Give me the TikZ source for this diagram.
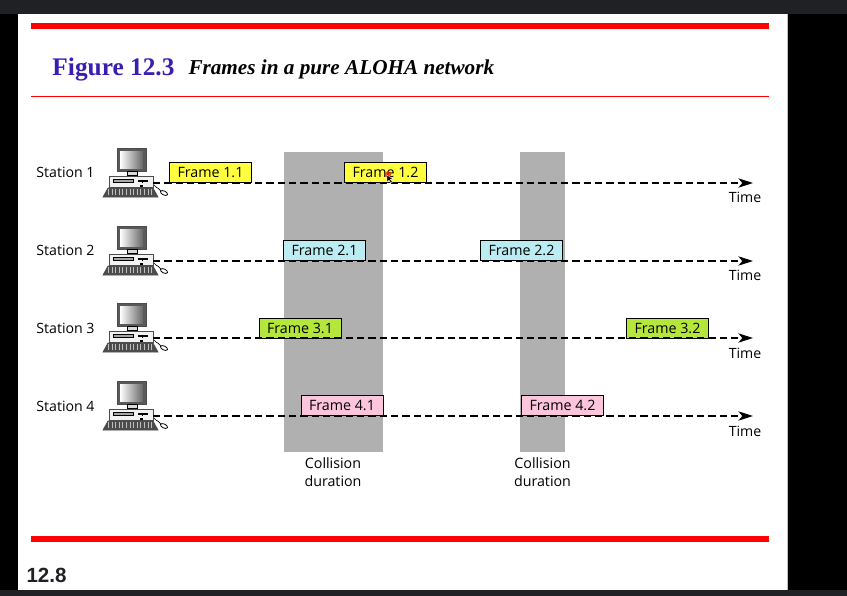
\documentclass[tikz,border=0pt]{standalone}
\usepackage{fontspec}
\setmainfont{Open Sans}
\newfontfamily\serifbold{Liberation Serif}
\newfontfamily\arialbold{Liberation Sans}
\usetikzlibrary{arrows.meta}
\definecolor{topdark}{RGB}{32,33,36}
\definecolor{slidered}{RGB}{255,0,0}
\definecolor{figblue}{RGB}{58,30,178}
\definecolor{colgray}{RGB}{176,176,176}
\definecolor{frameyellow}{RGB}{255,255,64}
\definecolor{framecyan}{RGB}{186,236,242}
\definecolor{framegreen}{RGB}{181,230,60}
\definecolor{framepink}{RGB}{252,197,220}
\tikzset{every picture/.style={line width=0.75pt}}
\tikzset{
  framebox/.style={draw=black,line width=0.75pt,inner sep=0pt,minimum width=61.5pt,minimum height=15pt,font=\fontsize{10.7}{12}\selectfont},
  stationlabel/.style={font=\fontsize{10.6}{12}\selectfont},
  timelabel/.style={font=\fontsize{10.6}{12}\selectfont},
  durlabel/.style={font=\fontsize{10.7}{13.5}\selectfont,align=center},
  timeline/.style={line width=1pt,dash pattern={on 5.5pt off 3pt},-{Stealth[length=11pt,width=7pt,inset=3pt]}},
  stationpc/.pic={
    \begin{scope}[yscale=-1]
    % monitor
    \draw [fill=black!65,draw=black!70] (-36,-35) rectangle (-7,-12) ;
    \shade [left color=white,right color=black!60] (-33,-32) rectangle (-10,-15) ;
    % stand
    \draw [fill=black!15,line width=0.5pt] (-26,-12) rectangle (-16,-8) ;
    % case
    \draw [fill=black!5,draw=black!70,line width=0.6pt] (-44,-7) rectangle (0,4) ;
    \draw [fill=black!35,line width=0.3pt] (-40,-4) rectangle (-20,-1) ;
    \draw [line width=0.9pt] (-15,-2) -- (-5,-2) ;
    \draw [line width=0.6pt] (-11,-3.5) -- (-11,0) ;
    \fill [black] (-13,2) rectangle (-10,4) ;
    % keyboard
    \draw [fill=black!70,draw=black!70,line width=0.5pt] (-50,14) -- (-45,5) -- (0,5) -- (5,14) -- cycle ;
    \draw [black!25,line width=5pt,dash pattern={on 0.6pt off 2.1pt}] (-45,9) -- (1,9) ;
    % mouse
    \draw [line width=0.5pt] (1,2) .. controls (4,6) and (7,5) .. (8,8) ;
    \draw [fill=white,line width=0.6pt,rotate around={25:(11,10)}] (11,10) ellipse (3.8 and 2) ;
    \end{scope}
  }
}
\begin{document}
\begin{tikzpicture}[x=0.75pt,y=0.75pt,yscale=-1,xscale=1]
	\useasboundingbox (0,0) rectangle (847,596);

	% Window
	\fill [black] (0,0) rectangle (847,596);
	\fill [white] (18,14) rectangle (787,590);
	\fill [black!25] (787,14) rectangle (788,590);
	\fill [topdark] (0,0) rectangle (847,14);
	\fill [topdark] (0,590) rectangle (847,596);

	% Red rules
	\fill [slidered] (31,23) rectangle (769,29);
	\fill [slidered] (31,95.6) rectangle (769,96.8);
	\fill [slidered] (31,536) rectangle (769,542);

	% Text Node
	\node [anchor=base west,text=figblue,inner sep=0pt,font=\serifbold\bfseries\fontsize{19}{22}\selectfont] (figtitle) at (52,75) {Figure 12.3};
	% Text Node
	\node [anchor=base west,inner sep=0pt,font=\serifbold\bfseries\itshape\fontsize{15.9}{18}\selectfont] (figcaption) at (188,74) {Frames in a pure ALOHA network};
	% Text Node
	\node [anchor=base west,text=topdark,inner sep=0pt,font=\arialbold\bfseries\fontsize{15.4}{18}\selectfont] (pageno) at (26,582) {12.8};

	% Collision bands
	\fill [colgray] (284,152) rectangle (383,452);
	\fill [colgray] (520,152) rectangle (565,452);

	% Stations
	\pic at (153,183) {stationpc};
	\pic at (153,261) {stationpc};
	\pic at (153,338) {stationpc};
	\pic at (153,416) {stationpc};
	\coordinate (line1) at (153,183);
	\coordinate (line2) at (153,261);
	\coordinate (line3) at (153,338);
	\coordinate (line4) at (153,416);
	\coordinate (end1) at (753,183);
	\coordinate (end2) at (753,261);
	\coordinate (end3) at (753,338);
	\coordinate (end4) at (753,416);

	% Frames
	\node [framebox,fill=frameyellow] (frame11) at (210.5,172.5) {Frame 1.1};
	\node [framebox,fill=frameyellow] (frame12) at (385.5,172.5) {Frame 1.2};
	\node [framebox,fill=framecyan] (frame21) at (324.5,250.5) {Frame 2.1};
	\node [framebox,fill=framecyan] (frame22) at (521.5,250.5) {Frame 2.2};
	\node [framebox,fill=framegreen] (frame31) at (300,328) {Frame 3.1};
	\node [framebox,fill=framegreen] (frame32) at (667.5,328) {Frame 3.2};
	\node [framebox,fill=framepink] (frame41) at (342,405.5) {Frame 4.1};
	\node [framebox,fill=framepink] (frame42) at (562.5,405.5) {Frame 4.2};

	% Time lines
	\draw [timeline] (line1) -- (end1) ;
	\draw [timeline] (line2) -- (end2) ;
	\draw [timeline] (line3) -- (end3) ;
	\draw [timeline] (line4) -- (end4) ;

	% Text Node
	\node [stationlabel] (st1) at (65.5,172.5) {Station 1};
	\node [stationlabel] (st2) at (65.5,250.5) {Station 2};
	\node [stationlabel] (st3) at (65.5,328.5) {Station 3};
	\node [stationlabel] (st4) at (65.5,406) {Station 4};
	% Text Node
	\node [timelabel] (time1) at (745,197.5) {Time};
	\node [timelabel] (time2) at (745,275.5) {Time};
	\node [timelabel] (time3) at (745,353) {Time};
	\node [timelabel] (time4) at (745,431) {Time};
	% Text Node
	\node [durlabel] (dur1) at (333,472) {Collision\\duration};
	\node [durlabel] (dur2) at (542.5,472) {Collision\\duration};

	% Pointer
	\fill [red!80!orange,opacity=0.75] (388,174.5) circle (3.2);
	\draw [fill=black,draw=white,line width=0.3pt] (387,175) -- (387,182) -- (389,180.3) -- (391,183) -- (392.5,182) -- (390.5,179.5) -- (393,179) -- cycle ;

\end{tikzpicture}
\end{document}
